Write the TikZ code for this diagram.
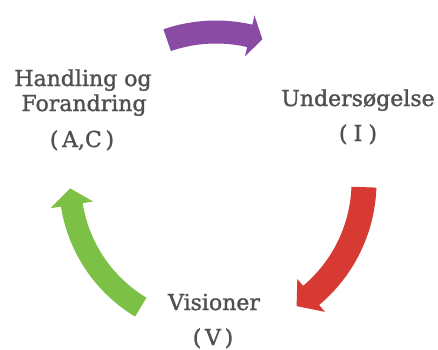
\documentclass[tikz,border=0pt]{standalone}
\usepackage{fontspec}
\setmainfont{DejaVu Serif}[FakeBold=1.3]
\definecolor{arrpurple}{RGB}{138,75,165}
\definecolor{arrred}{RGB}{214,58,50}
\definecolor{arrgreen}{RGB}{125,192,70}
\definecolor{labelgray}{RGB}{80,80,80}
\newcommand\cyclearrow[7]{%
  \pgfmathsetmacro\arOut{#2+#3}\pgfmathsetmacro\arIn{#2-#3}%
  \pgfmathsetmacro\arHo{#2+#4}\pgfmathsetmacro\arHi{#2-#4}%
  \fill[#1] (#5:\arOut pt) arc[start angle=#5, end angle=#6, radius=\arOut pt]
    -- (#6:\arHo pt) -- (#7:#2pt) -- (#6:\arHi pt) -- (#6:\arIn pt)
    arc[start angle=#6, end angle=#5, radius=\arIn pt] -- cycle;}
\begin{document}
\begin{tikzpicture}[x=1pt,y=1pt,
  lbl/.style={anchor=base, inner sep=0pt, text=labelgray,
    font=\fontsize{22}{25}\selectfont}]
\useasboundingbox[fill=white] (0,0) rectangle (438,349);
\begin{scope}[shift={(216,167)}]
  \cyclearrow{arrpurple}{150}{11.5}{21}{109}{77}{72}
  \cyclearrow{arrred}{148}{12.5}{21.5}{-2}{-50}{-57}
  \cyclearrow{arrgreen}{146}{11}{21.5}{-121}{-171}{-177.5}
\end{scope}
\node[lbl] (hand) at (83,263) {Handling og};
\node[lbl] (foran) at (84,238) {Forandring};
\node[lbl] (ac) at (82,202) {(\,A,C\,)};
\node[lbl] (under) at (358,243) {Undersøgelse};
\node[lbl] (ui) at (358,208) {(\;I\;)};
\node[lbl] (vis) at (214,39) {Visioner};
\node[lbl] (vv) at (213,4) {(\,V\,)};
\end{tikzpicture}
\end{document}
